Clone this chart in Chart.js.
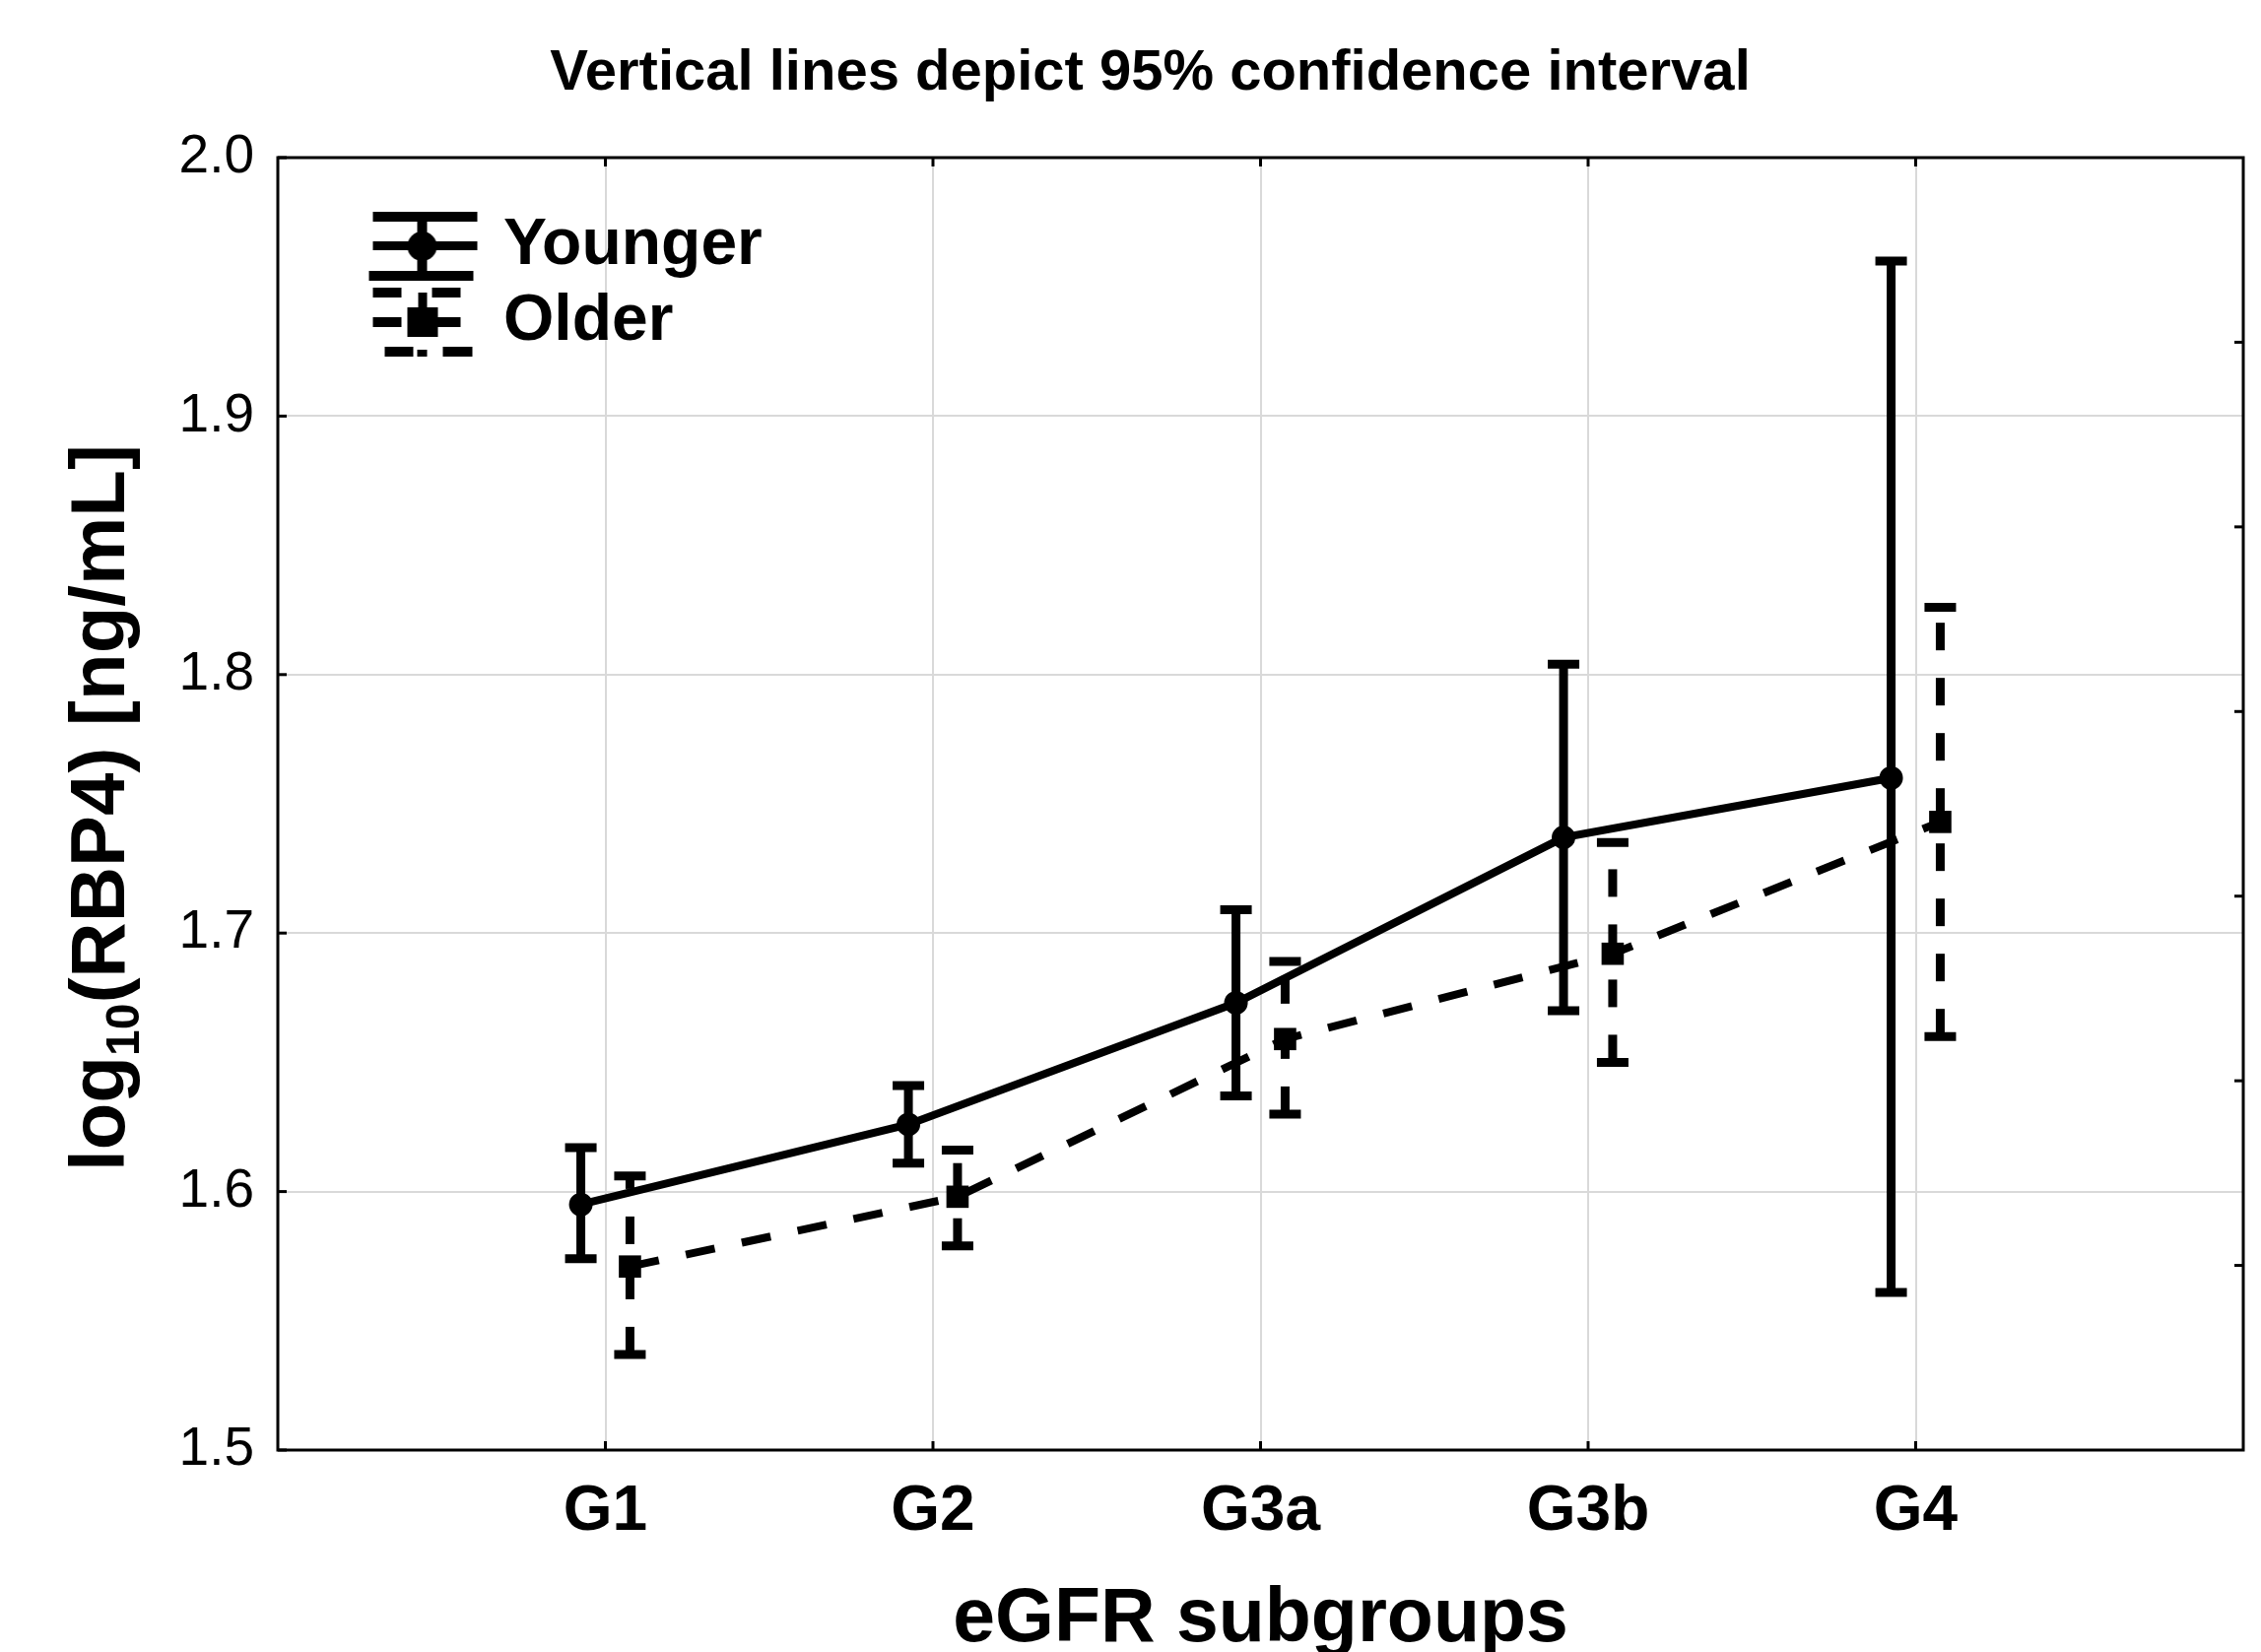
<!DOCTYPE html>
<html lang="en">
<head>
<meta charset="utf-8">
<title>log10(RBP4) by eGFR subgroups</title>
<script src="https://cdn.jsdelivr.net/npm/chart.js@4.4.0/dist/chart.umd.min.js"></script>
<style>
  body { margin: 0; background: #fff; }
  #wrap { width: 2295px; height: 1677px; }
</style>
</head>
<body>
<div id="wrap"><canvas id="chart" width="2295" height="1677"></canvas></div>
<script>
// data
const categories = ['G1', 'G2', 'G3a', 'G3b', 'G4'];
const youngerMean = [1.595, 1.626, 1.673, 1.737, 1.760];
const youngerLow  = [1.574, 1.611, 1.637, 1.670, 1.561];
const youngerHigh = [1.617, 1.641, 1.709, 1.804, 1.960];
const olderMean   = [1.571, 1.598, 1.659, 1.692, 1.743];
const olderLow    = [1.537, 1.579, 1.630, 1.650, 1.660];
const olderHigh   = [1.606, 1.616, 1.689, 1.735, 1.826];
const yTicks = [1.5, 1.6, 1.7, 1.8, 1.9, 2.0];

const FONT = 'Arial, "Liberation Sans", Helvetica, sans-serif';
Chart.defaults.font.family = FONT;
Chart.defaults.color = '#000';

// groups are drawn a little left/right of the category line
const toPoints = (vals, shift) => vals.map((v, i) => ({ x: i + 1 + shift, y: v }));

// minor ticks on the right frame (7 divisions)
const rightTicks = [1, 2, 3, 4, 5, 6].map(k => 1.5 + k / 14);

// legend glyphs: line + marker + error-bar caps
function makeIcon(dashed) {
  const c = document.createElement('canvas');
  c.width = 200; c.height = 80;
  const g = c.getContext('2d');
  g.fillStyle = '#000';
  const ox = 93, oy = 5;
  const r = (x, y, w, h) => g.fillRect(ox + x, oy + y, w, h);
  if (!dashed) {
    r(0, 0, 106, 10);
    r(0, 30, 106, 9);
    r(-4, 60, 106, 10);
    r(45, 0, 10, 70);
    g.beginPath(); g.arc(ox + 50, oy + 35, 15, 0, Math.PI * 2); g.fill();
  } else {
    r(0, 0, 29, 10); r(60, 0, 29, 10);
    r(46, 5, 9, 16);
    r(0, 30, 29, 10); r(65, 30, 24, 10);
    r(35, 20, 31, 30);
    r(12, 60, 29, 10); r(45, 63, 10, 7); r(71, 60, 30, 10);
  }
  return c;
}
const legendIcons = [makeIcon(false), makeIcon(true)];

const errorBars = {
  id: 'errorBars',
  beforeDatasetsDraw(chart) {
    const { ctx, scales: { x, y } } = chart;
    chart.data.datasets.forEach(ds => {
      ds.data.forEach((pt, i) => {
        const px = x.getPixelForValue(pt.x);
        const top = y.getPixelForValue(ds.errHigh[i]);
        const bot = y.getPixelForValue(ds.errLow[i]);
        ctx.save();
        ctx.strokeStyle = '#000';
        ctx.lineWidth = 9;
        ctx.setLineDash(ds.barDash || []);
        ctx.beginPath(); ctx.moveTo(px, bot); ctx.lineTo(px, top); ctx.stroke();
        ctx.setLineDash([]);
        ctx.beginPath();
        ctx.moveTo(px - 16, top); ctx.lineTo(px + 16, top);
        ctx.moveTo(px - 16, bot); ctx.lineTo(px + 16, bot);
        ctx.stroke();
        ctx.restore();
      });
    });
  }
};

const frame = {
  id: 'frame',
  afterDraw(chart) {
    const { ctx, chartArea: { left, right, top, bottom }, scales: { x, y } } = chart;
    ctx.save();
    ctx.strokeStyle = '#000';
    ctx.lineWidth = 3;
    ctx.strokeRect(left, top, right - left, bottom - top);
    const seg = (x1, y1, x2, y2) => { ctx.beginPath(); ctx.moveTo(x1, y1); ctx.lineTo(x2, y2); ctx.stroke(); };
    x.ticks.forEach(t => {
      if (t.value > 0 && t.value < 6) {
        const px = x.getPixelForValue(t.value);
        seg(px, top, px, top + 9);
        seg(px, bottom, px, bottom - 9);
      }
    });
    y.ticks.forEach(t => {
      const py = y.getPixelForValue(t.value);
      seg(left, py, left + 9, py);
    });
    rightTicks.forEach(v => {
      const py = y.getPixelForValue(v);
      seg(right, py, right - 9, py);
    });

    // y axis title with subscript
    const main = 'bold 78px ' + FONT, sub = 'bold 48px ' + FONT;
    ctx.fillStyle = '#000';
    ctx.textBaseline = 'alphabetic';
    ctx.textAlign = 'left';
    ctx.font = main;
    const w1 = ctx.measureText('log').width;
    const w3 = ctx.measureText('(RBP4) [ng/mL]').width;
    ctx.font = sub;
    const w2 = ctx.measureText('10').width;
    const start = -(w1 + w2 + w3) / 2;
    ctx.translate(126, (top + bottom) / 2 + 4);
    ctx.rotate(-Math.PI / 2);
    ctx.font = main;
    ctx.fillText('log', start, 0);
    ctx.font = sub;
    ctx.fillText('10', start + w1, 15);
    ctx.font = main;
    ctx.fillText('(RBP4) [ng/mL]', start + w1 + w2, 0);
    ctx.restore();
  }
};

new Chart(document.getElementById('chart'), {
  type: 'line',
  data: {
    datasets: [
      {
        label: 'Younger',
        data: toPoints(youngerMean, -0.075),
        errLow: youngerLow,
        errHigh: youngerHigh,
        borderColor: '#000',
        backgroundColor: '#000',
        borderWidth: 8,
        pointStyle: 'circle',
        pointRadius: 11,
        pointBorderWidth: 2
      },
      {
        label: 'Older',
        data: toPoints(olderMean, 0.075),
        errLow: olderLow,
        errHigh: olderHigh,
        barDash: [28, 28],
        borderColor: '#000',
        backgroundColor: '#000',
        borderWidth: 8,
        borderDash: [30, 28],
        pointStyle: 'rect',
        pointRadius: 16,
        pointBorderWidth: 0
      }
    ]
  },
  options: {
    responsive: false,
    animation: false,
    devicePixelRatio: 1,
    layout: { padding: { left: 58, right: 18, top: 0, bottom: 0 } },
    plugins: {
      tooltip: { enabled: false },
      title: {
        display: true,
        text: 'Vertical lines depict 95% confidence interval',
        color: '#000',
        font: { size: 58, weight: 'bold', lineHeight: 1 },
        padding: { top: 46, bottom: 56 }
      },
      legend: {
        position: 'chartArea',
        align: 'start',
        // the legend box starts at the canvas top, the empty title pushes rows into the plot
        title: { display: true, text: '', padding: { top: 166, bottom: 0 }, font: { size: 40, lineHeight: 1 } },
        labels: {
          color: '#000',
          font: { size: 66, weight: 'bold' },
          padding: 11,
          usePointStyle: true,
          pointStyleWidth: 185,
          boxHeight: 66,
          generateLabels: chart =>
            Chart.defaults.plugins.legend.labels.generateLabels(chart)
              .map((item, i) => ({ ...item, pointStyle: legendIcons[i] }))
        }
      }
    },
    scales: {
      x: {
        type: 'linear',
        min: 0,
        max: 6,
        afterFit: s => { s.height = 205; s.paddingLeft = 0; s.paddingRight = 0; },
        ticks: {
          stepSize: 1,
          padding: 31,
          font: { size: 64, weight: 'bold', lineHeight: 1 },
          callback: v => categories[Math.round(v) - 1] || ''
        },
        grid: { color: '#d9d9d9', lineWidth: 2, drawTicks: false },
        border: { display: false },
        title: {
          display: true,
          text: 'eGFR subgroups',
          font: { size: 77, weight: 'bold', lineHeight: 1 },
          padding: { top: 0, bottom: -6 }
        }
      },
      y: {
        min: 1.5,
        max: 2.0,
        afterFit: s => { s.width = 224; },
        afterBuildTicks: s => { s.ticks = yTicks.map(v => ({ value: v })); },
        ticks: {
          padding: 24,
          font: { size: 55 },
          callback: v => v.toFixed(1)
        },
        grid: { color: '#d9d9d9', lineWidth: 2, drawTicks: false },
        border: { display: false }
      }
    }
  },
  plugins: [errorBars, frame]
});
</script>
</body>
</html>
